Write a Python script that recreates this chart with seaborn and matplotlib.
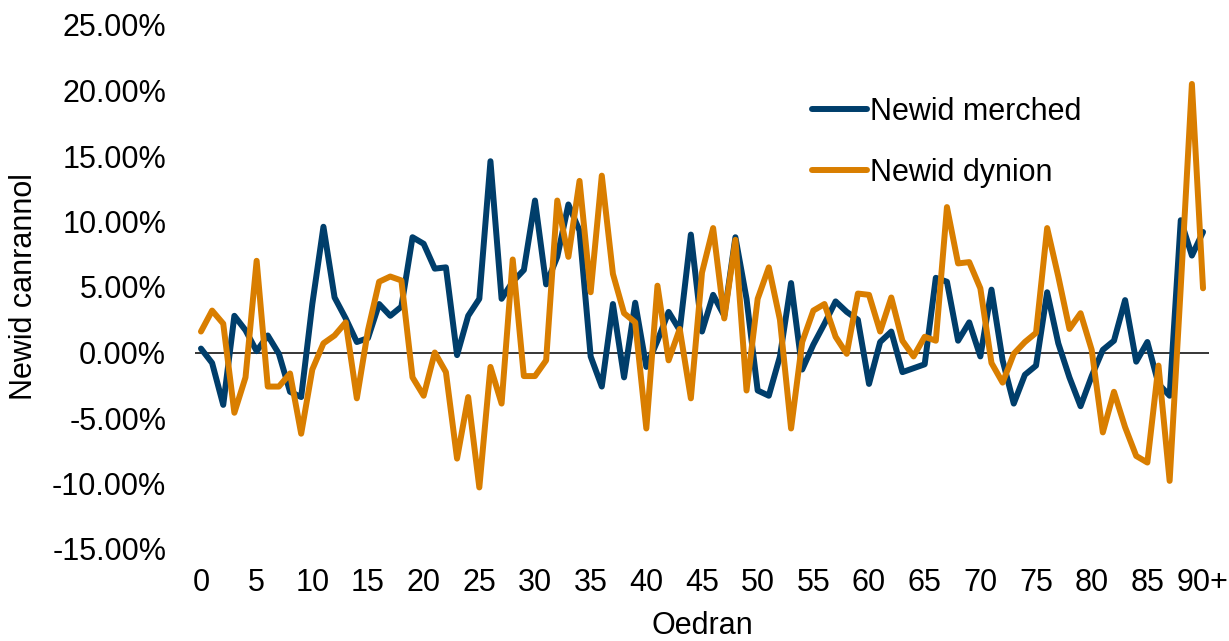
import matplotlib
matplotlib.use("Agg")
import matplotlib.pyplot as plt
import numpy as np
import pandas as pd
import seaborn as sns

# age 0..90+ , percentage change
ages = list(range(0, 91))
tick_ages = list(range(0, 91, 5))
tick_labels = [str(a) for a in range(0, 90, 5)] + ["90+"]

merched = [0.3, -0.8, -4.0, 2.8, 1.7, 0.1, 1.3, -0.1, -3.0, -3.4,
           3.7, 9.6, 4.2, 2.6, 0.8, 1.1, 3.7, 2.8, 3.5, 8.8,
           8.3, 6.4, 6.5, -0.2, 2.8, 4.1, 14.6, 4.1, 5.4, 6.3,
           11.6, 5.2, 7.3, 11.3, 9.3, -0.3, -2.6, 3.7, -1.9, 3.8,
           -1.1, 0.9, 3.1, 1.7, 9.0, 1.6, 4.4, 2.8, 8.8, 4.1,
           -2.9, -3.3, -0.3, 5.3, -1.3, 0.6, 2.2, 3.9, 3.1, 2.5,
           -2.4, 0.8, 1.6, -1.5, -1.2, -0.9, 5.7, 5.4, 0.9, 2.3,
           -0.3, 4.8, -0.6, -3.9, -1.7, -1.0, 4.6, 0.7, -1.9, -4.1,
           -1.8, 0.2, 0.9, 4.0, -0.7, 0.8, -2.4, -3.3, 10.1, 7.4,
           9.2]

dynion = [1.6, 3.2, 2.2, -4.6, -1.9, 7.0, -2.6, -2.6, -1.6, -6.2,
          -1.3, 0.7, 1.3, 2.3, -3.5, 1.7, 5.4, 5.8, 5.5, -1.9,
          -3.3, 0.0, -1.5, -8.1, -3.4, -10.3, -1.1, -3.9, 7.1, -1.8,
          -1.8, -0.6, 11.6, 7.3, 13.1, 4.6, 13.5, 6.0, 3.0, 2.3,
          -5.8, 5.1, -0.6, 1.8, -3.5, 6.1, 9.5, 2.6, 8.6, -2.9,
          4.1, 6.5, 2.5, -5.8, 0.8, 3.2, 3.7, 1.2, -0.1, 4.5,
          4.4, 1.6, 4.2, 0.9, -0.3, 1.2, 0.9, 11.1, 6.8, 6.9,
          4.9, -0.8, -2.3, -0.1, 0.8, 1.5, 9.5, 5.8, 1.8, 3.0,
          0.2, -6.1, -3.0, -5.7, -7.9, -8.4, -1.0, -9.8, 5.0, 20.5,
          4.9]

df = pd.DataFrame({
	"Oedran": ages * 2,
	"Newid": merched + dynion,
	"Cyfres": ["Newid merched"] * len(ages) + ["Newid dynion"] * len(ages),
})

sns.set_style("white")
plt.rcParams["font.family"] = ["Liberation Sans", "DejaVu Sans"]
plt.rcParams["font.size"] = 22
plt.rcParams["text.color"] = "black"
plt.rcParams["axes.labelcolor"] = "black"
plt.rcParams["xtick.color"] = "black"
plt.rcParams["ytick.color"] = "black"

fig = plt.figure(figsize=(12.29, 6.41), dpi=100)
ax = fig.add_axes([195.4 / 1229, (641 - 549) / 641, (1208.6 - 195.4) / 1229, (549 - 25) / 641])

ax.axhline(0, color="black", linewidth=1.1, zorder=1)
sns.lineplot(data=df, x="Oedran", y="Newid", hue="Cyfres",
             palette={"Newid merched": "#003e6b", "Newid dynion": "#d97e00"},
             linewidth=4.3, ax=ax, legend=True, zorder=2)

ax.set_xlim(-0.5, 90.5)
ax.set_ylim(-15, 25)
ax.set_xticks(tick_ages)
ax.set_xticklabels(tick_labels)
ax.set_yticks(np.arange(-15, 26, 5))
ax.set_yticklabels([f"{v:.2f}%" for v in np.arange(-15, 26, 5)])
ax.tick_params(axis="x", length=0, pad=14)
ax.tick_params(axis="y", length=0, pad=21)
for s in ax.spines.values():
	s.set_visible(False)

ax.set_xlabel("Oedran", labelpad=9)
ax.set_ylabel("Newid canrannol", labelpad=9)

ax.legend(title=None, frameon=False, loc="upper left",
          bbox_to_anchor=(812 / 1229, 1 - 97 / 641), bbox_transform=fig.transFigure,
          borderpad=0, borderaxespad=0, handlelength=1.8, handletextpad=0.1,
          labelspacing=1.0)

fig.savefig("out.png", dpi=100)
